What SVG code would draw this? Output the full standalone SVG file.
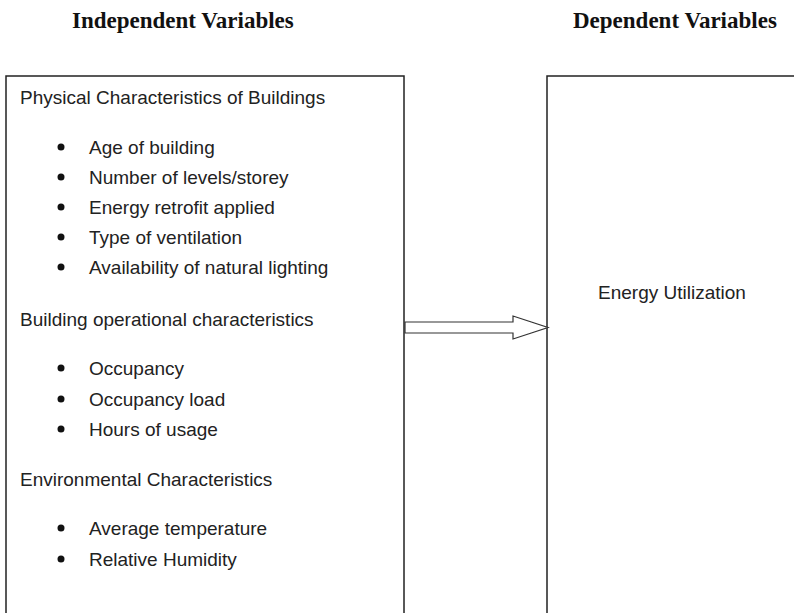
<svg xmlns="http://www.w3.org/2000/svg" width="794" height="613" viewBox="0 0 794 613">
<style>
.hdr{font-family:"Liberation Serif","Times New Roman",serif;font-weight:bold;font-size:23px;fill:#111}
.t{font-family:"Liberation Sans",Arial,sans-serif;font-size:19px;fill:#222}
.box{fill:#fff;stroke:#222;stroke-width:1.5}
.blt{fill:#111}
</style>
<rect width="794" height="613" fill="#fff"/>
<text class="hdr" x="72" y="28">Independent Variables</text>
<text class="hdr" x="573" y="28">Dependent Variables</text>
<g id="independent">
<rect class="box" x="6" y="76" width="398" height="560"/>
<text class="t" x="20" y="104">Physical Characteristics of Buildings</text>
<circle class="blt" cx="61" cy="147" r="3.5"/><text class="t" x="89" y="154">Age of building</text>
<circle class="blt" cx="61" cy="177" r="3.5"/><text class="t" x="89" y="184">Number of levels/storey</text>
<circle class="blt" cx="61" cy="207" r="3.5"/><text class="t" x="89" y="214">Energy retrofit applied</text>
<circle class="blt" cx="61" cy="237" r="3.5"/><text class="t" x="89" y="244">Type of ventilation</text>
<circle class="blt" cx="61" cy="267" r="3.5"/><text class="t" x="89" y="274">Availability of natural lighting</text>
<text class="t" x="20" y="326">Building operational characteristics</text>
<circle class="blt" cx="61" cy="368" r="3.5"/><text class="t" x="89" y="375">Occupancy</text>
<circle class="blt" cx="61" cy="399" r="3.5"/><text class="t" x="89" y="406">Occupancy load</text>
<circle class="blt" cx="61" cy="429" r="3.5"/><text class="t" x="89" y="436">Hours of usage</text>
<text class="t" x="20" y="486">Environmental Characteristics</text>
<circle class="blt" cx="61" cy="528" r="3.5"/><text class="t" x="89" y="535">Average temperature</text>
<circle class="blt" cx="61" cy="559" r="3.5"/><text class="t" x="89" y="566">Relative Humidity</text>
</g>
<g id="dependent">
<rect class="box" x="547" y="76" width="260" height="560"/>
<text class="t" x="598" y="299">Energy Utilization</text>
</g>
<g id="connectors">
<polygon points="405,322 513,322 513,316 548,327.5 513,339 513,333 405,333" fill="#fff" stroke="#333" stroke-width="1.2"/>
</g>
</svg>
